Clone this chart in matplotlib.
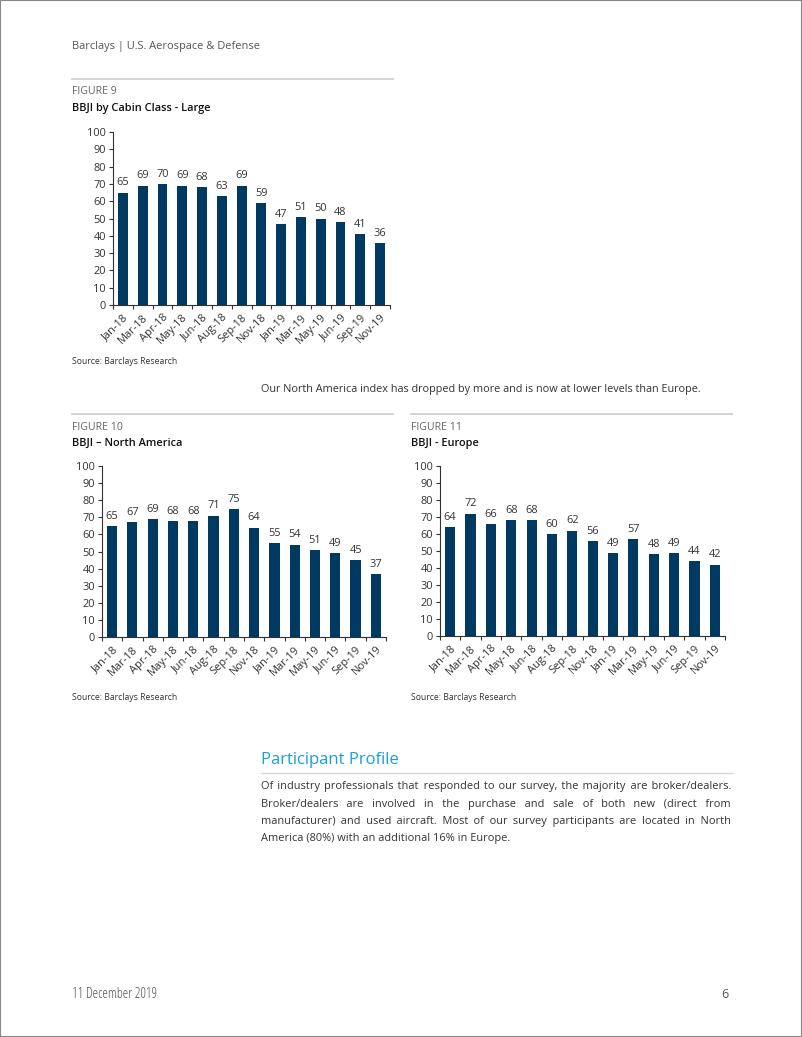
import matplotlib
matplotlib.use("Agg")
import matplotlib.pyplot as plt
from matplotlib.patches import Rectangle
from matplotlib.lines import Line2D

W, H = 802, 1037
plt.rcParams['font.family'] = ['Open Sans', 'DejaVu Sans']

months = ["Jan-18", "Mar-18", "Apr-18", "May-18", "Jun-18", "Aug-18", "Sep-18",
          "Nov-18", "Jan-19", "Mar-19", "May-19", "Jun-19", "Sep-19", "Nov-19"]
large = [65, 69, 70, 69, 68, 63, 69, 59, 47, 51, 50, 48, 41, 36]
north_america = [65, 67, 69, 68, 68, 71, 75, 64, 55, 54, 51, 49, 45, 37]
europe = [64, 72, 66, 68, 68, 60, 62, 56, 49, 57, 48, 49, 44, 42]
yticks = [0, 10, 20, 30, 40, 50, 60, 70, 80, 90, 100]

BAR = '#003a63'
TXT = '#333333'
GRAY = '#666666'
TFS = 7.9

fig = plt.figure(figsize=(W / 100, H / 100), dpi=100)
renderer = fig.canvas.get_renderer()


def fx(x):
    return x / W


def fy(y):
    return 1 - y / H


def rect(x0, yt, x1, yb):
    return [fx(x0), fy(yb), (x1 - x0) / W, (yb - yt) / H]


def txt(x, y, s, **kw):
    kw.setdefault('va', 'center')
    kw.setdefault('ha', 'left')
    return fig.text(fx(x), fy(y), s, **kw)


def hline(x0, x1, y, color='#d0d0d0', lw=1.3):
    fig.add_artist(Line2D([fx(x0), fx(x1)], [fy(y), fy(y)], color=color, lw=lw,
                          transform=fig.transFigure))


def bar_chart(r, values):
    ax = fig.add_axes(r)
    xs = list(range(len(values)))
    ax.bar(xs, values, width=0.5, color=BAR)
    ax.set_xlim(-0.5, len(values) - 0.5)
    ax.set_ylim(0, 100)
    ax.set_yticks(yticks)
    ax.set_yticklabels([str(t) for t in yticks], fontsize=TFS, color=TXT)
    ax.set_xticks([i - 0.5 for i in range(len(values) + 1)])
    ax.set_xticklabels([])
    ax.set_xticks(xs, minor=True)
    ax.set_xticklabels(months, minor=True, rotation=45, ha='right',
                       rotation_mode='anchor', fontsize=TFS, color=TXT)
    ax.tick_params(axis='x', which='minor', length=0, pad=5)
    ax.tick_params(axis='x', which='major', length=3, width=0.8, color='#333333')
    ax.tick_params(axis='y', length=3, width=0.8, color='#333333', pad=2)
    for s in ['top', 'right']:
        ax.spines[s].set_visible(False)
    for s in ['left', 'bottom']:
        ax.spines[s].set_linewidth(0.8)
        ax.spines[s].set_color('#333333')
    for x, v in zip(xs, values):
        ax.annotate(str(v), (x, v), xytext=(0, 3), textcoords='offset points',
                    ha='center', va='bottom', fontsize=TFS, color=TXT)
    return ax


# page border
fig.add_artist(Rectangle((0, 0), 1, 1, transform=fig.transFigure, fill=False,
                         edgecolor='#888888', lw=1.5))

# header
txt(72, 46, "Barclays | U.S. Aerospace & Defense", fontsize=7.9, color='#555555')

# Figure 9
hline(72, 393, 79)
txt(72, 92, "FIGURE 9", fontsize=7.6, color=GRAY)
txt(72, 108, "BBJI by Cabin Class - Large", fontsize=7.9, color='#111111', weight='semibold')
bar_chart(rect(113, 132, 390, 305), large)
txt(72, 362, "Source: Barclays Research", fontsize=6.2, color=TXT)

txt(261, 390, "Our North America index has dropped by more and is now at lower levels than Europe.",
    fontsize=7.8, color=TXT)

# Figure 10
hline(72, 393, 414)
txt(72, 428, "FIGURE 10", fontsize=7.6, color=GRAY)
txt(72, 443, "BBJI \u2013 North America", fontsize=7.9, color='#111111', weight='semibold')
bar_chart(rect(102, 466, 386, 637), north_america)
txt(72, 697, "Source: Barclays Research", fontsize=6.2, color=TXT)

# Figure 11
hline(411, 732, 414)
txt(411, 428, "FIGURE 11", fontsize=7.6, color=GRAY)
txt(411, 443, "BBJI - Europe", fontsize=7.9, color='#111111', weight='semibold')
bar_chart(rect(440, 466, 725, 636), europe)
txt(411, 697, "Source: Barclays Research", fontsize=6.2, color=TXT)

# Participant profile
txt(261, 760, "Participant Profile", fontsize=12.0, color='#1a9fd9')
hline(261, 732, 773, color='#d8d8d8', lw=1.0)

para_lines = [
    "Of industry professionals that responded to our survey, the majority are broker/dealers.",
    "Broker/dealers are involved in the purchase and sale of both new (direct from",
    "manufacturer) and used aircraft. Most of our survey participants are located in North",
    "America (80%) with an additional 16% in Europe.",
]
para_base = [789.5, 807, 824, 841]
PFS = 7.9
x_left, x_right = 261, 731

probe = txt(300, 500, "x", fontsize=PFS, color=TXT, va='baseline')


def width(s):
    probe.set_text(s)
    return probe.get_window_extent(renderer).width


HAIR = "\u200a"
base_aa = width("aa")
sp_w = width("a a") - base_aa
hair_w = width("a" + HAIR + "a") - base_aa


def justify(line):
    words = line.split(' ')
    word_w = [width(w) for w in words]
    g = (x_right - x_left - sum(word_w)) / (len(words) - 1)
    out = words[0]
    acc = 0.0
    for j, w in enumerate(words[1:]):
        target = g * (j + 1) - acc
        ns = max(1, int(target // sp_w))
        rem = target - ns * sp_w
        nh = max(0, int(round(rem / hair_w))) if hair_w > 0.05 else 0
        out += " " * ns + HAIR * nh + w
        acc += ns * sp_w + nh * hair_w
    return out


justified = [line if i == len(para_lines) - 1 else justify(line)
             for i, line in enumerate(para_lines)]
probe.remove()

for s, y in zip(justified, para_base):
    txt(x_left, y, s, fontsize=PFS, color=TXT, va='baseline')

# footer
txt(72, 995, "11 December 2019", fontsize=10, color='#555555', stretch='condensed')
txt(729, 995, "6", fontsize=9, color='#555555', ha='right')

fig.savefig("out.png", dpi=100)
